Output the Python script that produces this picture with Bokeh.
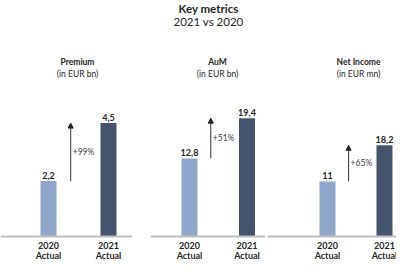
from bokeh.plotting import figure
from bokeh.layouts import row
from bokeh.models import Range1d, Label, Arrow, NormalHead, ColumnDataSource, Span
from bokeh.core.properties import value
from bokeh.embed import file_html
from bokeh.resources import INLINE

# ---- data ----
panels = ["Premium", "AuM", "Net Income"]
units = ["(in EUR bn)", "(in EUR bn)", "(in EUR mn)"]
category_years = ["2020", "2021"]
category_types = ["Actual", "Actual"]
values_2020 = [2.2, 12.8, 11]
values_2021 = [4.5, 19.4, 18.2]
labels_2020 = ["2,2", "12,8", "11"]
labels_2021 = ["4,5", "19,4", "18,2"]
growth = ["+99%", "+51%", "+65%"]
main_title = "Key metrics"
sub_title = "2021 vs 2020"

# ---- style / layout ----
FONT = "Lato"
C_2020 = "#8EA6CA"
C_2021 = "#44546E"
AXIS_C = "#BFBFBF"
TXT_C = "#262626"
H = 259
BASE_PX = 236  # baseline position from top of figure
# (border_left, frame_width, border_right, px offset of first bar, px spacing, px per unit)
layout = [
    (0, 132, 0, 48, 60, 25.2),
    (18, 115, 1, 39, 57.5, 6.10),
    (1, 129, 0, 60, 57, 5.01),
]
title_x = [77, 67, 91]

figs = []
for i in range(3):
    bl, fw, br, off, sp, k = layout[i]
    xs = -off / sp
    xe = xs + fw / sp
    ys = -(H - BASE_PX) / k
    ye = BASE_PX / k
    p = figure(width=bl + fw + br, height=H, output_backend="svg", toolbar_location=None,
               tools="", x_range=Range1d(xs, xe), y_range=Range1d(ys, ye),
               x_axis_location=None, y_axis_location=None,
               min_border_left=bl, min_border_right=br, min_border_top=0, min_border_bottom=0)
    p.outline_line_color = None
    p.grid.visible = False
    p.background_fill_color = "white"
    p.border_fill_color = "white"

    p.add_layout(Span(location=0, dimension="width", line_color=AXIS_C, line_width=2))

    src = ColumnDataSource(dict(
        x=[0, 1],
        top=[values_2020[i], values_2021[i]],
        color=[C_2020, C_2021],
        lab=[labels_2020[i], labels_2021[i]],
        year=category_years,
        kind=category_types,
        zero=[0, 0],
    ))
    bw = 16 / sp
    p.vbar(x="x", top="top", width=bw, bottom=0, color="color", line_color=None, source=src)
    p.text(x="x", y="top", text="lab", source=src, text_align="center", text_baseline="bottom",
           y_offset=-2, text_font=value(FONT), text_font_style="bold", text_font_size="9px",
           text_color=TXT_C)
    p.text(x="x", y="zero", text="year", source=src, text_align="center", text_baseline="middle",
           y_offset=8.5, text_font=value(FONT), text_font_style="bold", text_font_size="9px",
           text_color=TXT_C)
    p.text(x="x", y="zero", text="kind", source=src, text_align="center", text_baseline="middle",
           y_offset=18.5, text_font=value(FONT), text_font_style="bold", text_font_size="9px",
           text_color=TXT_C)

    ax = 0.37
    p.add_layout(Arrow(end=NormalHead(size=5, fill_color="#222222", line_color="#222222"),
                       x_start=ax, y_start=values_2020[i], x_end=ax, y_end=values_2021[i],
                       line_color="#333333", line_width=1))
    gsrc = ColumnDataSource(dict(x=[ax], y=[(values_2020[i] + values_2021[i]) / 2], t=[growth[i]]))
    p.text(x="x", y="y", text="t", source=gsrc, x_offset=2, text_align="left",
           text_baseline="middle", text_font=value(FONT), text_font_size="8.5px",
           text_color="#404040")

    p.add_layout(Label(x=title_x[i], y=H - 61, x_units="screen", y_units="screen",
                       text=panels[i], text_align="center", text_baseline="middle",
                       text_font=FONT, text_font_style="bold", text_font_size="8.5px",
                       text_color=TXT_C))
    p.add_layout(Label(x=title_x[i], y=H - 73, x_units="screen", y_units="screen",
                       text=units[i], text_align="center", text_baseline="middle",
                       text_font=FONT, text_font_size="8.5px", text_color=TXT_C))
    if i == 1:
        p.add_layout(Label(x=58, y=H - 8, x_units="screen", y_units="screen",
                           text=main_title, text_align="center", text_baseline="middle",
                           text_font=FONT, text_font_style="bold", text_font_size="11.5px",
                           text_color=TXT_C))
        p.add_layout(Label(x=58, y=H - 21, x_units="screen", y_units="screen",
                           text=sub_title, text_align="center", text_baseline="middle",
                           text_font=FONT, text_font_size="11.5px", text_color=TXT_C))
    figs.append(p)

layout_row = row(*figs, spacing=0)
open("out.html", "w").write(file_html(layout_row, INLINE))
